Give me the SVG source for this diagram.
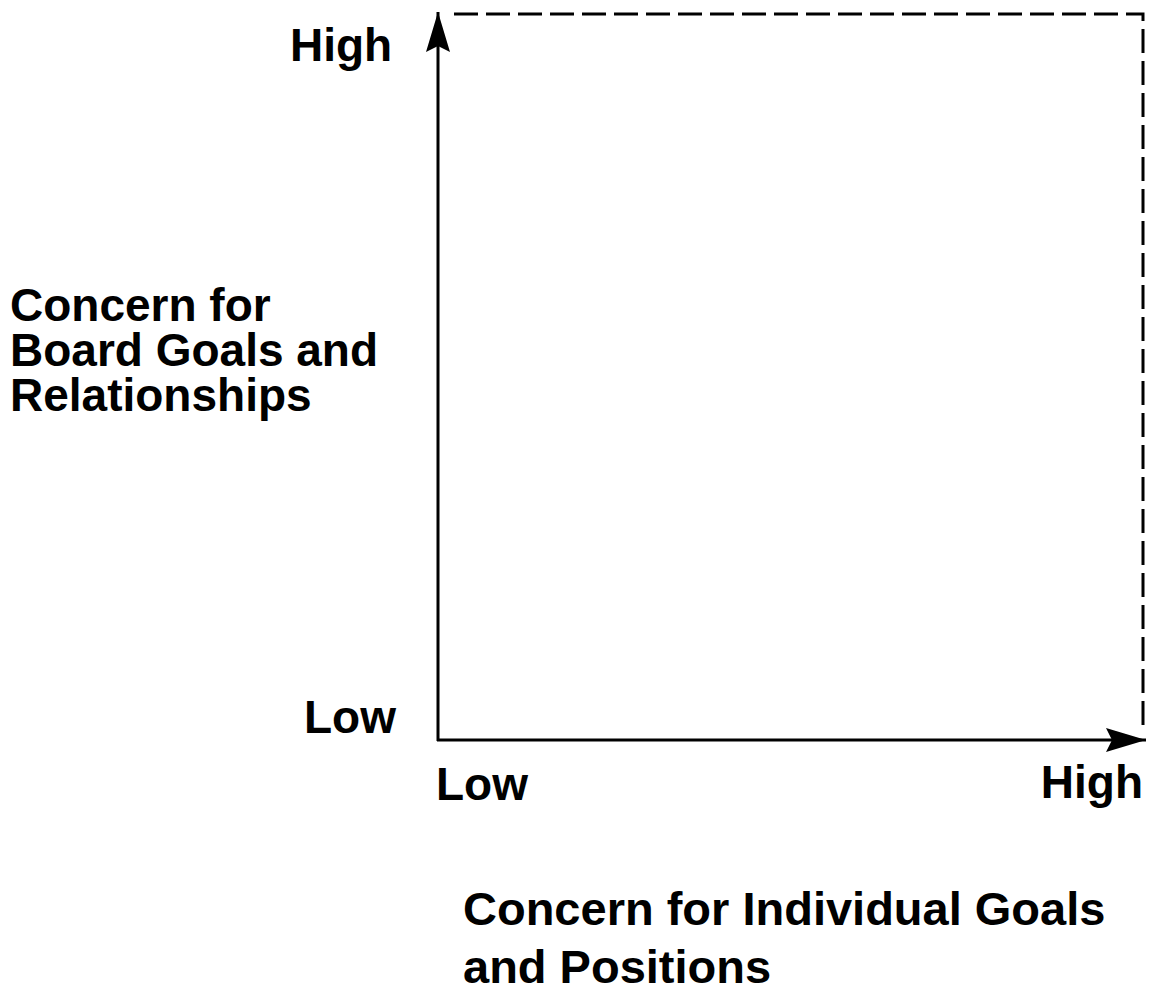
<svg xmlns="http://www.w3.org/2000/svg" width="1155" height="998" viewBox="0 0 1155 998">
<style>
.t{font-family:"Liberation Sans",Arial,sans-serif;font-weight:bold;font-size:46px;fill:#000}
.big{font-size:47px}
.axis{stroke:#000;stroke-width:3;fill:none}
.dash{stroke:#000;stroke-width:3;fill:none;stroke-dasharray:24 8}
</style>
<defs>
<marker id="ah" viewBox="0 0 40 24" refX="40" refY="12" markerWidth="40" markerHeight="24" markerUnits="userSpaceOnUse" orient="auto">
<path d="M0,0 L40,12 L0,24 L6,12 Z" fill="#000"/>
</marker>
</defs>
<rect width="1155" height="998" fill="#fff"/>
<g id="connectors">
<line class="axis" x1="438" y1="741" x2="438" y2="12" marker-end="url(#ah)"/>
<line class="axis" x1="437" y1="740" x2="1146" y2="740" marker-end="url(#ah)"/>
<path class="dash" d="M454,14 H1143 V732"/>
</g>
<g id="y-high"><text class="t" x="290" y="61">High</text></g>
<g id="y-low"><text class="t" x="304" y="733">Low</text></g>
<g id="x-low"><text class="t" x="436" y="800">Low</text></g>
<g id="x-high"><text class="t" x="1143" y="798" text-anchor="end">High</text></g>
<g id="y-label">
<text class="t" x="10" y="321">Concern for</text>
<text class="t" x="10" y="366">Board Goals and</text>
<text class="t" x="10" y="411">Relationships</text>
</g>
<g id="x-label">
<text class="t big" x="463" y="925">Concern for Individual Goals</text>
<text class="t big" x="463" y="983">and Positions</text>
</g>
</svg>
